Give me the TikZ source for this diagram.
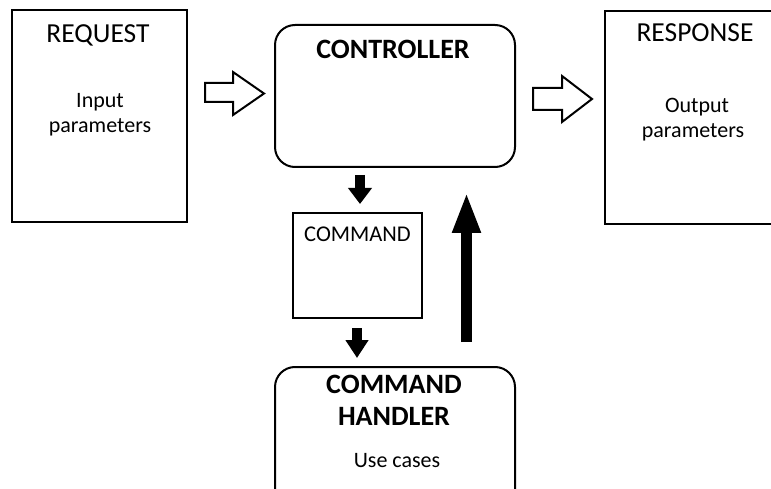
\documentclass[tikz,border=0pt]{standalone}
\usepackage{fontspec}
\setmainfont{Carlito}
\usetikzlibrary{arrows.meta}
\begin{document}
\begin{tikzpicture}[x=1pt,y=-1pt,
  box/.style={draw=black,line width=2pt,inner sep=0pt},
  rbox/.style={box,rounded corners=20pt},
  ttl/.style={font=\fontsize{27.5}{32}\selectfont,anchor=base,inner sep=0pt},
  ttlb/.style={font=\fontsize{28}{33}\selectfont\bfseries,anchor=base,inner sep=0pt},
  body/.style={font=\fontsize{22}{26}\selectfont,anchor=base,inner sep=0pt},
  hollow/.style={draw=black,fill=white,line width=2pt,line join=miter},
  blk/.style={draw=black,line cap=butt}
]
\useasboundingbox (0,0) rectangle (771,489);
\clip (0,0) rectangle (771,489);

% boxes
\node[box,minimum width=175pt,minimum height=212pt] (req) at (99.5,116) {};
\node[box,minimum width=175pt,minimum height=213pt] (resp) at (692.5,117.5) {};
\node[rbox,minimum width=240pt,minimum height=142pt] (ctrl) at (395,96) {};
\node[box,minimum width=129pt,minimum height=105pt] (cmd) at (357.5,265.5) {};
\node[rbox,minimum width=240pt,minimum height=143pt] (hand) at (395,438.5) {};

% texts
\node[ttl] (reqt) at (98,43) {REQUEST};
\node[body] (reqi) at (100,108) {Input};
\node[body] (reqp) at (100,133) {parameters};
\node[ttl] (respt) at (695,42) {RESPONSE};
\node[body] (respo) at (697,113) {Output};
\node[body] (respp) at (693,138) {parameters};
\node[ttlb] (ctrlt) at (393,59) {CONTROLLER};
\node[body,font=\fontsize{22.5}{27}\selectfont] (cmdt) at (357.5,241) {COMMAND};
\node[ttlb] (handt1) at (394,393) {COMMAND};
\node[ttlb] (handt2) at (394,425) {HANDLER};
\node[body] (handt3) at (397,467) {Use cases};

% hollow arrows
\draw[hollow] (205,83) -- (233,83) -- (233,72) -- (264,93.5) -- (233,115) -- (233,102) -- (205,102) -- cycle;
\draw[hollow] (533,88) -- (562,88) -- (562,76) -- (592,99) -- (562,122) -- (562,110) -- (533,110) -- cycle;

% black block arrows
\coordinate (a1s) at (360,175);
\coordinate (a1e) at (360,204);
\coordinate (a2s) at (357,328);
\coordinate (a2e) at (357,358);
\coordinate (a3s) at (466.5,342);
\coordinate (a3e) at (466.5,192);
\draw[blk,line width=10pt,-{Triangle[length=16pt,width=23pt]}] (a1s) -- (a1e);
\draw[blk,line width=10pt,-{Triangle[length=18pt,width=22pt]}] (a2s) -- (a2e);
\draw[blk,line width=11pt,-{Triangle[length=41pt,width=26pt]}] (a3s) -- (a3e);
\end{tikzpicture}
\end{document}
